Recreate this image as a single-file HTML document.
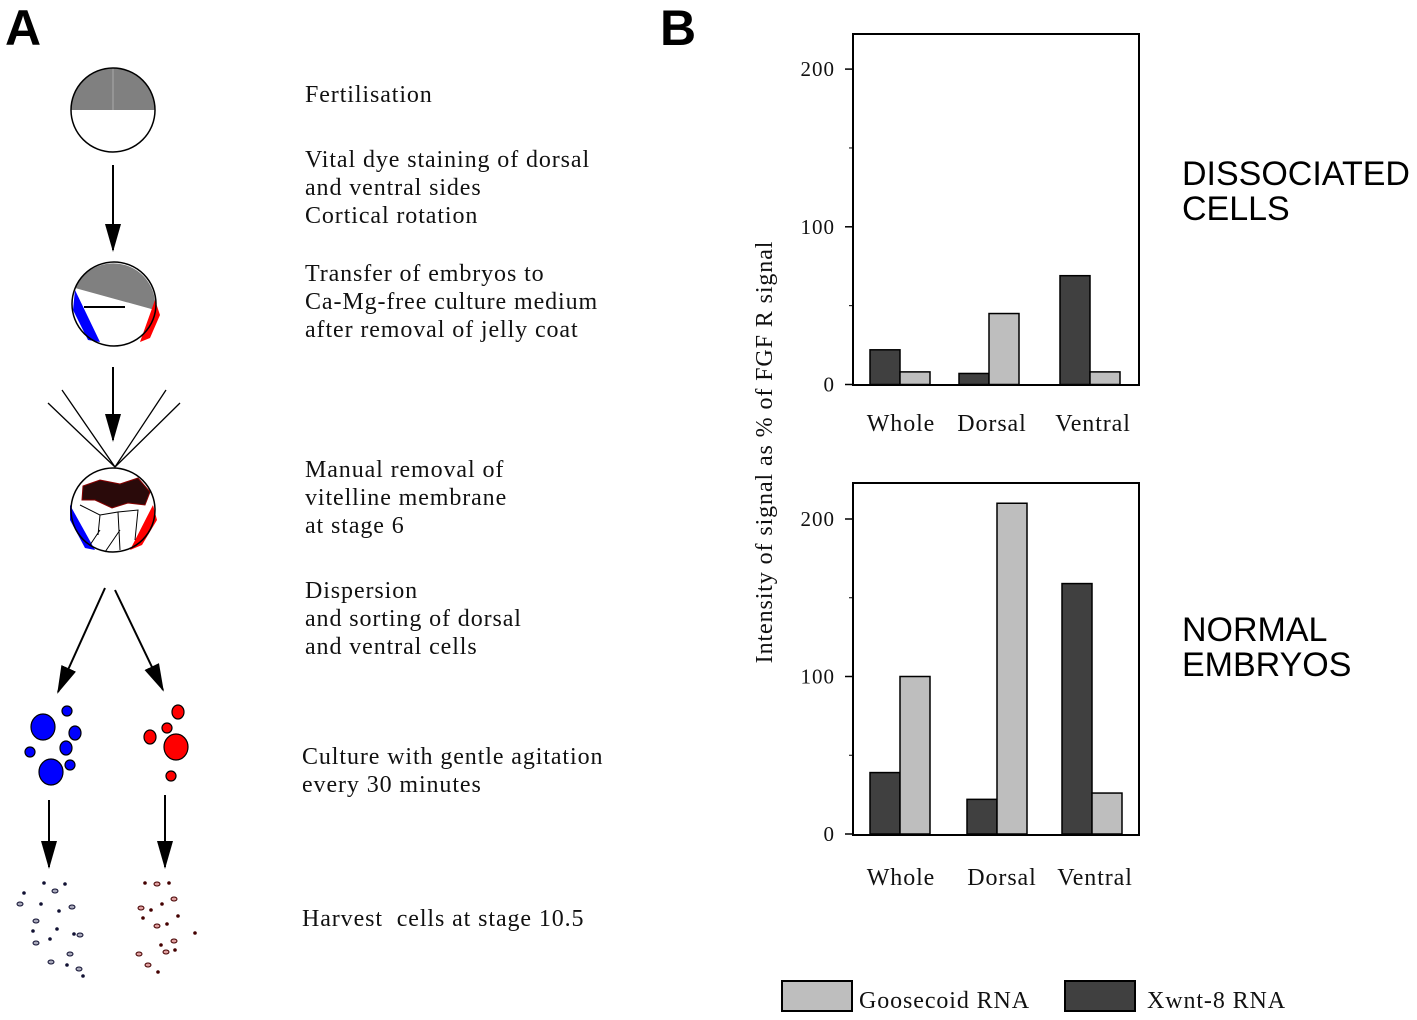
<!DOCTYPE html>
<html><head><meta charset="utf-8"><style>
body{margin:0;background:#fff;}
svg{display:block;}
.t{font-family:"Liberation Serif",serif;font-size:24px;letter-spacing:0.9px;fill:#111;}
.s{font-family:"Liberation Sans",sans-serif;font-size:34px;fill:#000;}
.tk{font-family:"Liberation Serif",serif;font-size:21px;letter-spacing:1px;fill:#111;}
.cat{font-family:"Liberation Serif",serif;font-size:24px;letter-spacing:0.9px;fill:#111;}
</style></head><body>
<svg id="root" width="1417" height="1020" viewBox="0 0 1417 1020">
<defs><marker id="ah" markerWidth="28" markerHeight="16" refX="26" refY="8" orient="auto" markerUnits="userSpaceOnUse" viewBox="0 0 28 16"><path d="M0,0 L28,8 L0,16 Z" fill="#000"/></marker></defs>
<g>
<text x="5" y="45" font-family="Liberation Sans,sans-serif" font-weight="bold" font-size="50">A</text>
<g>
<path d="M71,110 A42,42 0 0 1 155,110 Z" fill="#808080"/>
<line x1="113" y1="68" x2="113" y2="110" stroke="#aaa"/>
<circle cx="113" cy="110" r="42" fill="none" stroke="#000" stroke-width="1.5"/>
</g>
<line x1="113" y1="165" x2="113" y2="250" stroke="#000" stroke-width="2" marker-end="url(#ah)"/>
<g>
<path d="M75,288 L155,310 A42,42 0 0 0 75,288 Z" fill="#808080"/>
<path d="M75,290 L100,342 L88,340 L73,310 Z" fill="#0000ff"/>
<path d="M155,300 L140,342 L150,338 L160,315 Z" fill="#ff0000"/>
<line x1="84" y1="307" x2="125" y2="307" stroke="#000" stroke-width="2"/>
<circle cx="114" cy="304" r="42" fill="none" stroke="#000" stroke-width="1.5"/>
</g>
<line x1="113" y1="367" x2="113" y2="440" stroke="#000" stroke-width="2" marker-end="url(#ah)"/>
<g stroke="#000" stroke-width="1.3">
<line x1="115" y1="467" x2="48" y2="403"/><line x1="115" y1="467" x2="62" y2="390"/>
<line x1="115" y1="467" x2="166" y2="390"/><line x1="115" y1="467" x2="180" y2="403"/>
</g>
<g>
<path d="M83,486 L100,480 L120,484 L138,478 L150,492 L145,505 L128,503 L112,508 L95,500 L82,500 Z" fill="#2a0a0a" stroke="#800" />
<path d="M70,505 L95,550 L85,548 L70,520 Z" fill="#0000ff"/>
<path d="M153,505 L130,550 L142,545 L157,520 Z" fill="#ff0000"/>
<g stroke="#000" fill="none" stroke-width="1"><path d="M80,505 L100,515 L98,535 M100,515 L118,512 L120,550 M118,512 L138,510 L135,540 M100,530 L90,545 M120,530 L105,552"/></g>
<circle cx="113" cy="510" r="42" fill="none" stroke="#000" stroke-width="1.5"/>
</g>
<line x1="105" y1="588" x2="58" y2="692" stroke="#000" stroke-width="2" marker-end="url(#ah)"/>
<line x1="115" y1="590" x2="163" y2="690" stroke="#000" stroke-width="2" marker-end="url(#ah)"/>
<g fill="#0000ff" stroke="#000" stroke-width="1.2">
<ellipse cx="43" cy="727" rx="12" ry="13"/><ellipse cx="67" cy="711" rx="5" ry="5"/><ellipse cx="75" cy="733" rx="6" ry="7"/>
<ellipse cx="66" cy="748" rx="6" ry="7"/><ellipse cx="30" cy="752" rx="5" ry="5"/><ellipse cx="51" cy="772" rx="12" ry="13"/><ellipse cx="70" cy="765" rx="5" ry="5"/>
</g>
<g fill="#ff0000" stroke="#000" stroke-width="1.2">
<ellipse cx="178" cy="712" rx="6" ry="7"/><ellipse cx="167" cy="728" rx="5" ry="5"/><ellipse cx="150" cy="737" rx="6" ry="7"/>
<ellipse cx="176" cy="747" rx="12" ry="13"/><ellipse cx="171" cy="776" rx="5" ry="5"/>
</g>
<line x1="49" y1="800" x2="49" y2="867" stroke="#000" stroke-width="2" marker-end="url(#ah)"/>
<line x1="165" y1="795" x2="165" y2="867" stroke="#000" stroke-width="2" marker-end="url(#ah)"/>
<g fill="#aab" stroke="#113" stroke-width="1">
<ellipse cx="20" cy="904" rx="3" ry="2"/><ellipse cx="55" cy="891" rx="3" ry="2"/><ellipse cx="72" cy="907" rx="3" ry="2"/><ellipse cx="36" cy="921" rx="3" ry="2"/>
<ellipse cx="80" cy="935" rx="3" ry="2"/><ellipse cx="36" cy="943" rx="3" ry="2"/><ellipse cx="70" cy="954" rx="3" ry="2"/><ellipse cx="51" cy="962" rx="3" ry="2"/><ellipse cx="79" cy="969" rx="3" ry="2"/>
<g fill="#113"><circle cx="44" cy="883" r="1.3"/><circle cx="24" cy="893" r="1.3"/><circle cx="65" cy="884" r="1.3"/><circle cx="41" cy="904" r="1.3"/><circle cx="59" cy="911" r="1.3"/><circle cx="33" cy="931" r="1.3"/><circle cx="57" cy="929" r="1.3"/><circle cx="74" cy="934" r="1.3"/><circle cx="50" cy="939" r="1.3"/><circle cx="83" cy="976" r="1.3"/><circle cx="67" cy="965" r="1.3"/></g>
</g>
<g fill="#e0a0a0" stroke="#400" stroke-width="1">
<ellipse cx="157" cy="884" rx="3" ry="2"/><ellipse cx="174" cy="899" rx="3" ry="2"/><ellipse cx="141" cy="908" rx="3" ry="2"/><ellipse cx="157" cy="926" rx="3" ry="2"/>
<ellipse cx="174" cy="941" rx="3" ry="2"/><ellipse cx="166" cy="952" rx="3" ry="2"/><ellipse cx="139" cy="954" rx="3" ry="2"/><ellipse cx="148" cy="965" rx="3" ry="2"/>
<g fill="#400"><circle cx="145" cy="883" r="1.3"/><circle cx="169" cy="883" r="1.3"/><circle cx="162" cy="904" r="1.3"/><circle cx="151" cy="910" r="1.3"/><circle cx="143" cy="918" r="1.3"/><circle cx="178" cy="916" r="1.3"/><circle cx="167" cy="924" r="1.3"/><circle cx="195" cy="933" r="1.3"/><circle cx="161" cy="945" r="1.3"/><circle cx="158" cy="972" r="1.3"/><circle cx="175" cy="950" r="1.3"/></g>
</g>
<g>
<text class="t" x="305" y="102">Fertilisation</text>
<text class="t" x="305" y="167">Vital dye staining of dorsal</text>
<text class="t" x="305" y="195">and ventral sides</text>
<text class="t" x="305" y="223">Cortical rotation</text>
<text class="t" x="305" y="281">Transfer of embryos to</text>
<text class="t" x="305" y="309">Ca-Mg-free culture medium</text>
<text class="t" x="305" y="337">after removal of jelly coat</text>
<text class="t" x="305" y="477">Manual removal of</text>
<text class="t" x="305" y="505">vitelline membrane</text>
<text class="t" x="305" y="533">at stage 6</text>
<text class="t" x="305" y="598">Dispersion</text>
<text class="t" x="305" y="626">and sorting of dorsal</text>
<text class="t" x="305" y="654">and ventral cells</text>
<text class="t" x="302" y="764">Culture with gentle agitation</text>
<text class="t" x="302" y="792">every 30 minutes</text>
<text class="t" x="302" y="926">Harvest&#160; cells at stage 10.5</text>
</g>
</g>
<g id="panelB">
<text x="660" y="45" font-family="Liberation Sans,sans-serif" font-weight="bold" font-size="50">B</text>
<text class="t" transform="translate(772,452) rotate(-90)" text-anchor="middle">Intensity of signal as % of FGF R signal</text>
<text class="s" x="1182" y="185">DISSOCIATED</text>
<text class="s" x="1182" y="220">CELLS</text>
<text class="s" x="1182" y="641">NORMAL</text>
<text class="s" x="1182" y="676">EMBRYOS</text>
<rect x="782" y="981" width="70" height="30" fill="#bebebe" stroke="#000" stroke-width="2"/>
<text class="cat" x="859" y="1008">Goosecoid RNA</text>
<rect x="1065" y="981" width="70" height="30" fill="#404040" stroke="#000" stroke-width="2"/>
<text class="cat" x="1147" y="1008">Xwnt-8 RNA</text>
</g>
</svg>
<script>
const categories = ["Whole", "Dorsal", "Ventral"];
const dissocXwnt = [22, 7, 69];
const dissocGsc = [8, 45, 8];
const normalXwnt = [39, 22, 159];
const normalGsc = [100, 210, 26];
const yTicks = [0, 100, 200];
const yMinor = [50, 150];

const NS = "http://www.w3.org/2000/svg";
const panel = document.getElementById("panelB");
function mk(tag, attrs, parent){const e=document.createElementNS(NS,tag);for(const k in attrs)e.setAttribute(k,attrs[k]);(parent||panel).appendChild(e);return e;}

function drawChart(top, bottom, zeroY, hundredPx, darkX, xwnt, gsc, labelX, labelY, name){
  const g = mk("g", {});
  
  
  const y = v => zeroY - v * hundredPx / 100;
  const frame = mk("rect", {x:853, y:top, width:286, height:bottom-top, fill:"none", stroke:"#000", "stroke-width":2}, g);
  
  
  yTicks.forEach(t => {
    const l = mk("line", {x1:845, x2:853, y1:y(t), y2:y(t), stroke:"#000", "stroke-width":1.5}, g);
    
    
    const tx = mk("text", {x:835, y:y(t)+7, "text-anchor":"end", class:"tk"}, g);
    tx.textContent = t;
    
    
  });
  yMinor.forEach(t => {
    const l = mk("line", {x1:849, x2:853, y1:y(t), y2:y(t), stroke:"#000", "stroke-width":1}, g);
    
    
  });
  categories.forEach((c, i) => {
    const bd = mk("rect", {x:darkX[i], y:y(xwnt[i]), width:30, height:zeroY-y(xwnt[i]), fill:"#404040", stroke:"#000", "stroke-width":1.5}, g);
    
    
    const bl = mk("rect", {x:darkX[i]+30, y:y(gsc[i]), width:30, height:zeroY-y(gsc[i]), fill:"#bebebe", stroke:"#000", "stroke-width":1.5}, g);
    
    
    const tx = mk("text", {x:labelX[i], y:labelY, "text-anchor":"middle", class:"cat"}, g);
    tx.textContent = c;
    
    
  });
}
drawChart(34, 385, 384.5, 157.7, [870, 959, 1060], dissocXwnt, dissocGsc, [901, 992, 1093], 431, "chart-dissociated");
drawChart(483, 835, 834, 157.5, [870, 967, 1062], normalXwnt, normalGsc, [901, 1002, 1095], 885, "chart-normal");
</script>
</body></html>
